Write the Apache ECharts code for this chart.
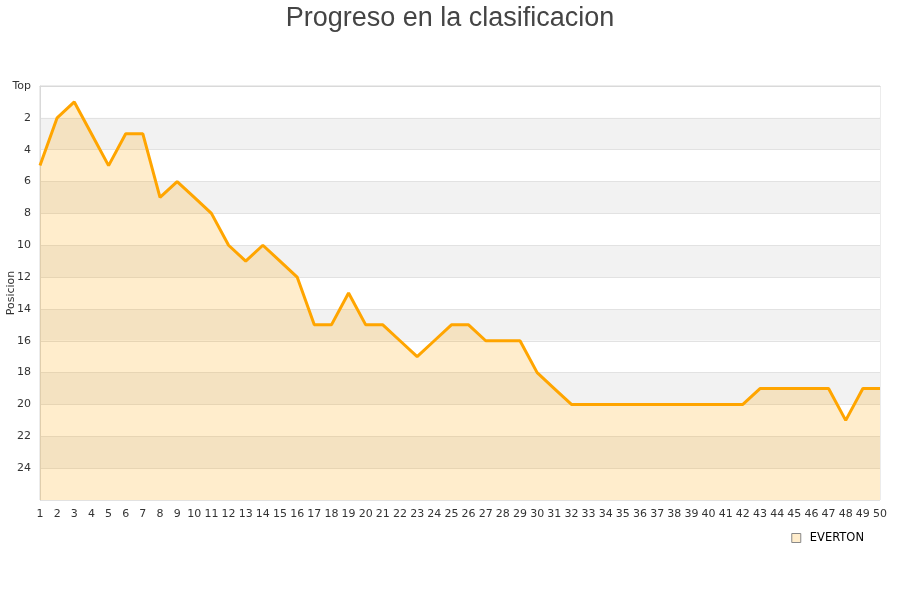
<!DOCTYPE html>
<html><head><meta charset="utf-8">
<script src="https://cdn.jsdelivr.net/npm/echarts@6/dist/echarts.min.js"></script>
<style>html,body{margin:0;padding:0;background:#fff}#c{width:900px;height:600px}</style>
</head><body><div id="c"></div>
<script>
const title = 'Progreso en la clasificacion';
const teamName = 'EVERTON';
const jornadas = ['1','2','3','4','5','6','7','8','9','10','11','12','13','14','15','16','17','18','19','20','21','22','23','24','25','26','27','28','29','30','31','32','33','34','35','36','37','38','39','40','41','42','43','44','45','46','47','48','49','50'];
const posiciones = [5,2,1,3,5,3,3,7,6,7,8,10,11,10,11,12,15,15,13,15,15,16,17,16,15,15,16,16,16,18,19,20,20,20,20,20,20,20,20,20,20,20,19,19,19,19,19,21,19,19];
const yMin = 0, yMax = 26, yStep = 2;

const chart = echarts.init(document.getElementById('c'));
chart.setOption({
  animation: false,
  title: { text: title, left: 'center', top: 0,
    textStyle: { fontFamily: 'Liberation Sans, Arial, sans-serif', fontSize: 27, fontWeight: 'normal', color: '#444' } },
  grid: { left: 40, right: 20, top: 86, bottom: 100, containLabel: false, outerBoundsMode: 'none',
    show: true, borderColor: '#d9d9d9', borderWidth: 1, backgroundColor: 'transparent' },
  legend: {
    right: 31, top: 527, itemWidth: 9, itemHeight: 9, itemGap: 10,
    textStyle: { fontFamily: 'DejaVu Sans, sans-serif', fontSize: 11.5, color: '#000', padding: [0, 0, 0, 4] },
    data: [{ name: teamName, icon: 'rect', itemStyle: { color: '#ffedcc', borderColor: '#888', borderWidth: 1 }, lineStyle: { opacity: 0 } }]
  },
  xAxis: {
    type: 'category', data: jornadas, boundaryGap: false,
    axisLine: { show: true, lineStyle: { color: '#d9d9d9' } },
    axisTick: { show: false },
    axisLabel: { interval: 0, fontFamily: 'DejaVu Sans, sans-serif', fontSize: 11, color: '#333', margin: 9 },
    splitLine: { show: false }
  },
  yAxis: {
    type: 'value', inverse: true, min: yMin, max: yMax, interval: yStep,
    name: 'Posicion', nameLocation: 'middle', nameGap: 23, nameMoveOverlap: false,
    nameTextStyle: { fontFamily: 'DejaVu Sans, sans-serif', fontSize: 11, color: '#333' },
    axisLine: { show: true, lineStyle: { color: '#d9d9d9' } },
    axisTick: { show: false },
    axisLabel: { fontFamily: 'DejaVu Sans, sans-serif', fontSize: 11, color: '#333', margin: 9,
      formatter: v => v === 0 ? 'Top' : (v === yMax ? '' : String(v)) },
    splitLine: { show: true, lineStyle: { color: '#e2e2e2', width: 1 } },
    splitArea: { show: true, areaStyle: { color: ['#ffffff', '#f2f2f2'] } }
  },
  series: [{
    name: teamName, type: 'line', data: posiciones,
    symbol: 'none', smooth: false,
    lineStyle: { color: '#ffa500', width: 3 },
    itemStyle: { color: '#ffa500' },
    areaStyle: { color: '#ffa500', opacity: 0.2, origin: 'end' }
  }]
});
</script></body></html>
